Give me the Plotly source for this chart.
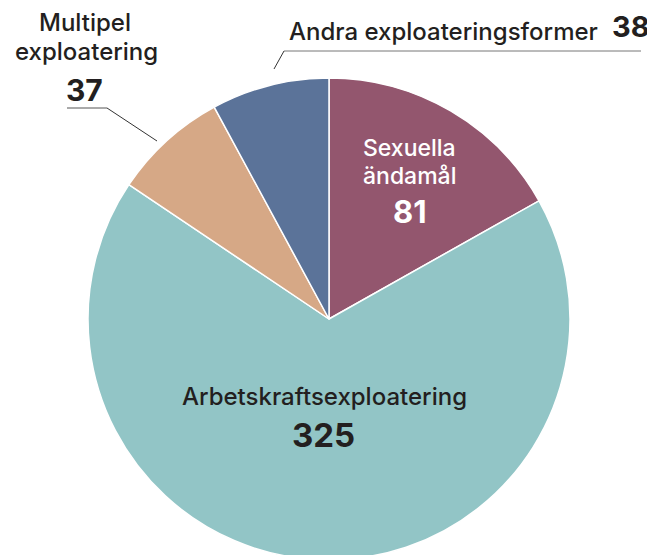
import plotly.graph_objects as go

labels = ["Sexuella ändamål", "Arbetskraftsexploatering", "Multipel exploatering", "Andra exploateringsformer"]
values = [81, 325, 37, 38]
colors = ["#93566e", "#92c5c6", "#d6a886", "#5b7399"]

W, H = 655, 555
OFF = 8  # page body margin
FONT = "Inter"
DARK = "#231f20"

def px(x):
    return (x - OFF) / W

def py(y):
    return 1 - (y - OFF) / H

fig = go.Figure(go.Pie(
    labels=labels, values=values, sort=False, direction="clockwise", rotation=0,
    marker=dict(colors=colors, line=dict(color="white", width=1.5)),
    textinfo="none", hoverinfo="label+value", showlegend=False,
    domain=dict(x=[px(88), px(570)], y=[py(560), py(78)]),
))

ann = []
def add(text, x, y, size, color=DARK, bold=False, xanchor="center"):
    dy = 0.0 if bold else 0.5
    ann.append(dict(text=text, x=px(x), y=py(y + dy), xref="paper", yref="paper", showarrow=False,
                    xanchor=xanchor, yanchor="middle",
                    font=dict(family=FONT, size=size, color=color, weight=700 if bold else 500)))

# Sexuella ändamål
add("Sexuella", 409, 147, 23, color="white")
add("ändamål", 409, 175.5, 23, color="white")
add(str(values[0]), 410, 211, 31, color="white", bold=True)
# Arbetskraftsexploatering
add(labels[1], 324, 396.5, 24)
add(str(values[1]), 323, 435, 33, bold=True)
# Multipel
add("Multipel", 85, 22.5, 24)
add("exploatering", 86, 51, 24)
add(str(values[2]), 84, 89.5, 30, bold=True)
# Andra
add(labels[3], 287, 31, 24, xanchor="left")
add(str(values[3]), 610, 27, 29, bold=True, xanchor="left")

shapes = [
    dict(type="line", xref="paper", yref="paper", x0=px(67), y0=py(108), x1=px(107), y1=py(108),
         line=dict(color="#555555", width=1)),
    dict(type="line", xref="paper", yref="paper", x0=px(107), y0=py(108), x1=px(157), y1=py(141),
         line=dict(color="#333333", width=1)),
    dict(type="line", xref="paper", yref="paper", x0=px(284), y0=py(51), x1=px(641), y1=py(51),
         line=dict(color="#777777", width=1)),
    dict(type="line", xref="paper", yref="paper", x0=px(284), y0=py(51), x1=px(274), y1=py(69),
         line=dict(color="#333333", width=1)),
]

fig.update_layout(width=W, height=H, margin=dict(l=0, r=0, t=0, b=0),
                  paper_bgcolor="white", plot_bgcolor="white",
                  annotations=ann, shapes=shapes)

fig.write_html("out.html")
